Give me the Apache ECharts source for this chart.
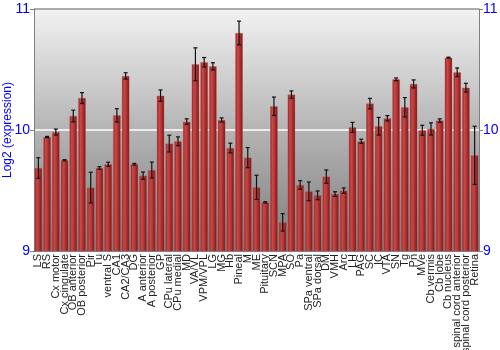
<!DOCTYPE html>
<html><head><meta charset="utf-8">
<script src="https://cdn.jsdelivr.net/npm/echarts@6/dist/echarts.min.js"></script>
<style>html,body{margin:0;padding:0;background:#fff}#c{width:500px;height:350px}</style>
</head><body><div id="c"></div>
<script>
const categories = ["LS","RS","Cx motor","Cx cingulate","OB anterior","OB posterior","Pir","Tu","ventral S","CA1","CA2/CA3","DG","A anterior","A posterior","GP","CPu lateral","CPu medial","MD","VA/VL","VPM/VPL","LG","MG","Hb","Pineal","M","ME","Pituitary","SCN","MPA","SO","Pa","SPa ventral","SPa dorsal","DM","VMH","Arc","LH","PAG","SC","IC","VTA","SN","Tg","Pn","MVe","Cb vermis","Cb lobe","Cb nucleus","spinal cord anterior","spinal cord posterior","Retina"];
const values = [9.686,9.942,9.983,9.750,10.116,10.264,9.524,9.686,9.717,10.121,10.447,9.717,9.623,9.669,10.284,9.888,9.907,10.069,10.543,10.560,10.526,10.083,9.851,10.802,9.772,9.526,9.402,10.196,9.237,10.293,9.545,9.493,9.460,9.615,9.471,9.499,10.022,9.907,10.218,10.031,10.097,10.419,10.188,10.381,9.998,10.009,10.078,10.598,10.477,10.350,9.791];
const errors = [0.085,0.005,0.025,0.005,0.048,0.045,0.127,0.011,0.017,0.055,0.026,0.007,0.030,0.066,0.047,0.069,0.036,0.023,0.136,0.039,0.030,0.017,0.040,0.098,0.083,0.100,0.005,0.076,0.072,0.030,0.036,0.077,0.036,0.055,0.019,0.022,0.041,0.017,0.043,0.073,0.022,0.011,0.080,0.033,0.041,0.050,0.014,0.004,0.036,0.036,0.240];
const yTicks = [9,10,11];

const chart = echarts.init(document.getElementById('c'));
const errData = categories.map((c,i)=>[i, values[i]-errors[i], values[i]+errors[i]]);
const FONT = 'Liberation Sans, Arial, sans-serif';
const axisLabelStyle = {color:'#0000ff', fontSize:14, fontFamily:FONT};
chart.setOption({
  animation:false,
  grid:{left:34,right:21,top:9,bottom:99,show:true,borderWidth:0,outerBoundsMode:'none',containLabel:false,
    backgroundColor:{type:'linear',x:0,y:0,x2:0,y2:1,colorStops:[{offset:0,color:'#f2f2f2'},{offset:0.5,color:'#b4b4b4'},{offset:1,color:'#7c7c7c'}]}},
  xAxis:{type:'category',data:categories,
    axisLine:{show:true,lineStyle:{color:'#808080'}},axisTick:{show:false},
    axisLabel:{rotate:90,interval:0,fontSize:11,color:'#222',fontFamily:FONT,margin:3}},
  yAxis:[{type:'value',min:9,max:11,interval:1,position:'left',
    name:'Log2 (expression)',nameLocation:'middle',nameGap:20,nameMoveOverlap:false,nameTextStyle:{color:'#0000ff',fontSize:12,fontFamily:FONT},
    axisLine:{show:true,lineStyle:{color:'#808080'}},axisTick:{show:true,length:4,lineStyle:{color:'#808080'}},
    axisLabel:Object.assign({margin:4,formatter:v=>yTicks.includes(v)?String(v):''},axisLabelStyle),
    splitLine:{show:true,lineStyle:{color:['rgba(0,0,0,0)','#ffffff','#909090'],width:1.5}}},
   {type:'value',min:9,max:11,interval:1,position:'right',
    axisLine:{show:true,lineStyle:{color:'#808080'}},axisTick:{show:true,length:4,lineStyle:{color:'#808080'}},
    axisLabel:Object.assign({margin:4,formatter:v=>yTicks.includes(v)?String(v):''},axisLabelStyle),
    splitLine:{show:false}}],
  series:[{type:'bar',data:values,barCategoryGap:'14%',
    itemStyle:{color:{type:'linear',x:0,y:0,x2:1,y2:0,colorStops:[{offset:0,color:'#8c2020'},{offset:0.3,color:'#c94848'},{offset:0.6,color:'#b33434'},{offset:1,color:'#761313'}]},
      borderColor:'rgba(200,90,90,0.6)',borderWidth:0.5}},
   {type:'custom',data:errData,z:5,
    renderItem:function(params,api){
      const x=api.value(0);
      const lo=api.coord([x,api.value(1)]);
      const hi=api.coord([x,api.value(2)]);
      const w=2;
      const st={stroke:'#111',lineWidth:1.2};
      return {type:'group',children:[
        {type:'line',shape:{x1:lo[0],y1:lo[1],x2:hi[0],y2:hi[1]},style:st},
        {type:'line',shape:{x1:lo[0]-w,y1:lo[1],x2:lo[0]+w,y2:lo[1]},style:st},
        {type:'line',shape:{x1:hi[0]-w,y1:hi[1],x2:hi[0]+w,y2:hi[1]},style:st}]};
    }}]
});
</script></body></html>
